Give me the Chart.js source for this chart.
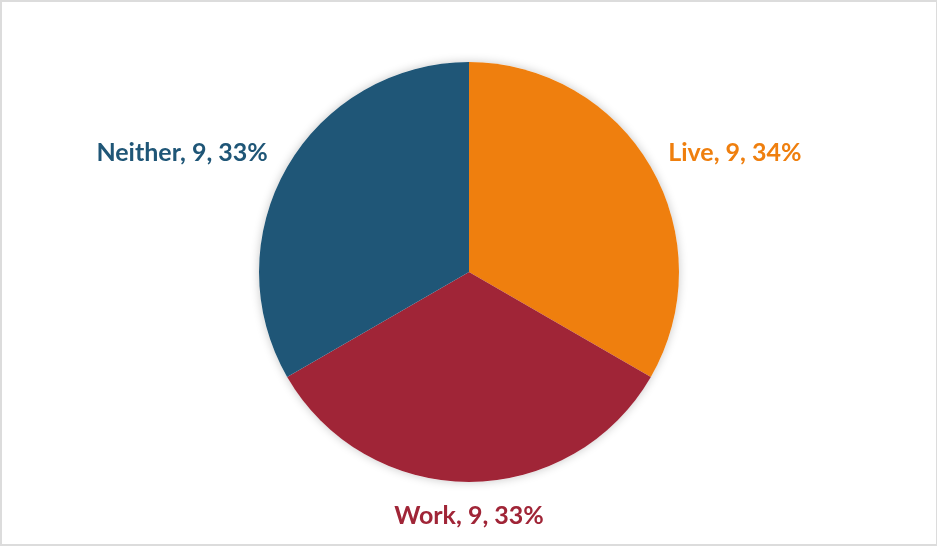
<!DOCTYPE html>
<html>
<head>
<meta charset="utf-8">
<script src="https://cdn.jsdelivr.net/npm/chart.js@4"></script>
<style>
  html, body { margin: 0; padding: 0; background: #fff; }
  #wrap {
    width: 937px; height: 546px; box-sizing: border-box;
    border-style: solid; border-color: #dcdcdc;
    border-width: 2px 1px 2px 2px; position: relative;
  }
  canvas { display: block; }
</style>
</head>
<body>
<div id="wrap"><canvas id="pie" width="934" height="542"></canvas></div>
<script>
// ===== DATA =====
const categories = ['Live', 'Work', 'Neither'];
const counts = [9, 9, 9];
const percentLabels = ['34%', '33%', '33%'];
const sliceColors = ['#EF7F0E', '#A02537', '#1F5677'];

// soft shadow behind the whole pie
const pieShadow = {
    id: 'pieShadow',
    beforeDatasetsDraw(chart) {
        const arc = chart.getDatasetMeta(0).data[0];
        if (!arc) return;
        const ctx = chart.ctx;
        ctx.save();
        ctx.shadowColor = 'rgba(0,0,0,0.22)';
        ctx.shadowBlur = 10;
        ctx.fillStyle = '#fff';
        ctx.beginPath();
        ctx.arc(arc.x, arc.y, arc.outerRadius, 0, Math.PI * 2);
        ctx.fill();
        ctx.restore();
    }
};

// "Name, value, pct" labels outside each slice
const outsideLabels = {
    id: 'outsideLabels',
    afterDatasetsDraw(chart) {
        const ctx = chart.ctx;
        const meta = chart.getDatasetMeta(0);
        ctx.save();
        ctx.font = 'bold 25px Lato, "Open Sans", sans-serif';
        ctx.textBaseline = 'middle';
        meta.data.forEach((arc, i) => {
            const mid = (arc.startAngle + arc.endAngle) / 2;
            const r = arc.outerRadius * 1.15;
            let x = arc.x + Math.cos(mid) * r;
            const y = arc.y + Math.sin(mid) * r;
            const c = Math.cos(mid);
            if (Math.abs(c) < 0.3) ctx.textAlign = 'center';
            else if (c > 0) { ctx.textAlign = 'left'; x -= 10; }
            else { ctx.textAlign = 'right'; x += 8; }
            ctx.fillStyle = sliceColors[i];
            ctx.fillText(`${categories[i]}, ${counts[i]}, ${percentLabels[i]}`, x, y + 2);
        });
        ctx.restore();
    }
};

new Chart(document.getElementById('pie'), {
    type: 'pie',
    data: {
        labels: categories,
        datasets: [{ data: counts, backgroundColor: sliceColors, borderWidth: 0 }]
    },
    options: {
        responsive: false,
        animation: false,
        layout: { padding: { top: 60, bottom: 62, left: 0, right: 0 } },
        plugins: { legend: { display: false }, tooltip: { enabled: false } }
    },
    plugins: [pieShadow, outsideLabels]
});
</script>
</body>
</html>
